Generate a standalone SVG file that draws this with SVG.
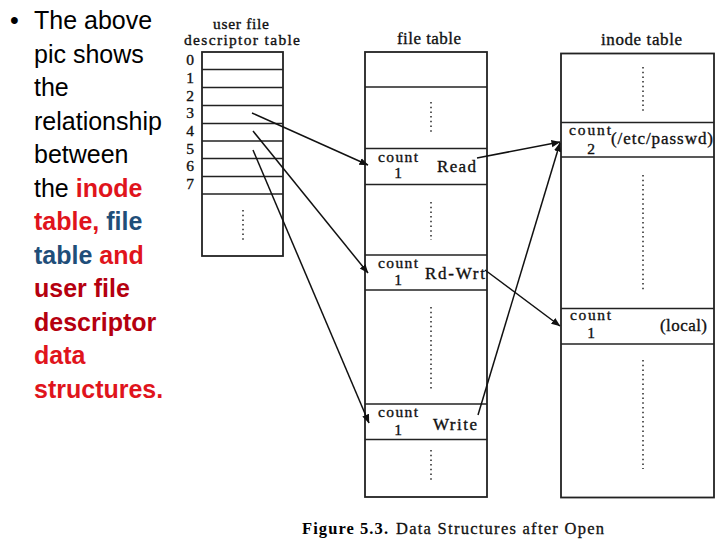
<svg xmlns="http://www.w3.org/2000/svg" width="720" height="540" viewBox="0 0 720 540">
<defs>
<style>
.b{font-family:"Liberation Sans",Arial,sans-serif;font-size:25px;fill:#000}
.rd{fill:#E0141C;font-weight:bold}
.dr{fill:#B5000F;font-weight:bold}
.bl{fill:#1F4E79;font-weight:bold}
.s{font-family:"Liberation Serif","Times New Roman",serif;font-size:17px;fill:#111;stroke:#111;stroke-width:0.35}
.c{font-size:15.5px}
.tb{fill:#fff;stroke:#222;stroke-width:1.8}
.ln{stroke:#222;stroke-width:1.6}
.dt{stroke:#333;stroke-width:1.6;stroke-dasharray:1.5 3.2}
.ar{stroke:#111;stroke-width:1.5;fill:none;marker-end:url(#ah)}
</style>
<marker id="ah" viewBox="0 0 10 10" refX="9.5" refY="5" markerWidth="9" markerHeight="9" markerUnits="userSpaceOnUse" orient="auto">
<path d="M0,1 L10,5 L0,9 Z" fill="#111"/>
</marker>
</defs>
<rect width="720" height="540" fill="#fff"/>

<g id="bullet-text" class="b">
<text x="10" y="29">•</text>
<text x="34" y="29">The above</text>
<text x="34" y="63">pic shows</text>
<text x="34" y="96">the</text>
<text x="34" y="130">relationship</text>
<text x="34" y="163">between</text>
<text x="34" y="197">the <tspan class="rd">inode</tspan></text>
<text x="34" y="230"><tspan class="rd">table,</tspan> <tspan class="bl">file</tspan></text>
<text x="34" y="264"><tspan class="bl">table</tspan> <tspan class="rd">and</tspan></text>
<text x="34" y="297" class="dr">user file</text>
<text x="34" y="331" class="dr">descriptor</text>
<text x="34" y="364" class="rd">data</text>
<text x="34" y="398" class="rd">structures.</text>
</g>

<g id="user-fd-table">
<text class="s c" x="213" y="28.5" textLength="56">user file</text>
<text class="s c" x="184" y="45" textLength="116">descriptor table</text>
<rect class="tb" x="202" y="52" width="81" height="204"/>
<line class="ln" x1="202" y1="69.5" x2="283" y2="69.5"/>
<line class="ln" x1="202" y1="87.5" x2="283" y2="87.5"/>
<line class="ln" x1="202" y1="105.5" x2="283" y2="105.5"/>
<line class="ln" x1="202" y1="123.5" x2="283" y2="123.5"/>
<line class="ln" x1="202" y1="141" x2="283" y2="141"/>
<line class="ln" x1="202" y1="158.5" x2="283" y2="158.5"/>
<line class="ln" x1="202" y1="176.5" x2="283" y2="176.5"/>
<line class="ln" x1="202" y1="194" x2="283" y2="194"/>
<line class="dt" x1="243" y1="210" x2="243" y2="240"/>
<g class="s c" text-anchor="middle">
<text x="190" y="65">0</text>
<text x="190" y="83">1</text>
<text x="190" y="100.5">2</text>
<text x="190" y="118">3</text>
<text x="190" y="136">4</text>
<text x="190" y="153.5">5</text>
<text x="190" y="171">6</text>
<text x="190" y="189">7</text>
</g>
</g>

<g id="file-table">
<text class="s" x="397" y="44" textLength="64">file table</text>
<rect class="tb" x="365" y="52" width="122" height="445"/>
<line class="ln" x1="365" y1="87" x2="487" y2="87"/>
<line class="ln" x1="365" y1="148.5" x2="487" y2="148.5"/>
<line class="ln" x1="365" y1="184.5" x2="487" y2="184.5"/>
<line class="ln" x1="365" y1="255" x2="487" y2="255"/>
<line class="ln" x1="365" y1="290" x2="487" y2="290"/>
<line class="ln" x1="365" y1="404" x2="487" y2="404"/>
<line class="ln" x1="365" y1="439.5" x2="487" y2="439.5"/>
<line class="dt" x1="431" y1="102" x2="431" y2="132"/>
<line class="dt" x1="431" y1="202" x2="431" y2="240"/>
<line class="dt" x1="431" y1="307" x2="431" y2="389"/>
<line class="dt" x1="431" y1="450" x2="431" y2="480"/>
<g id="ft-read">
<text class="s c" x="378" y="161.5" textLength="40">count</text>
<text class="s c" x="398" y="178" text-anchor="middle">1</text>
<text class="s" x="437" y="171.5" textLength="39">Read</text>
</g>
<g id="ft-rdwrt">
<text class="s c" x="378" y="267.5" textLength="40">count</text>
<text class="s c" x="398" y="284.5" text-anchor="middle">1</text>
<text class="s" x="425" y="279" textLength="60">Rd-Wrt</text>
</g>
<g id="ft-write">
<text class="s c" x="378" y="417" textLength="40">count</text>
<text class="s c" x="398" y="435" text-anchor="middle">1</text>
<text class="s" x="433" y="430" textLength="44">Write</text>
</g>
</g>

<g id="inode-table">
<text class="s" x="601" y="45" textLength="81">inode table</text>
<rect class="tb" x="561" y="53.5" width="153" height="444"/>
<line class="ln" x1="561" y1="122.5" x2="714" y2="122.5"/>
<line class="ln" x1="561" y1="157" x2="714" y2="157"/>
<line class="ln" x1="561" y1="308.5" x2="714" y2="308.5"/>
<line class="ln" x1="561" y1="344" x2="714" y2="344"/>
<line class="dt" x1="643" y1="67" x2="643" y2="114"/>
<line class="dt" x1="643" y1="175" x2="643" y2="291"/>
<line class="dt" x1="643" y1="360" x2="643" y2="469"/>
<g id="in-passwd">
<text class="s c" x="569" y="135" textLength="42">count</text>
<text class="s c" x="591" y="153.5" text-anchor="middle">2</text>
<text class="s" x="611" y="144" textLength="102">(/etc/passwd)</text>
</g>
<g id="in-local">
<text class="s c" x="570" y="320" textLength="41">count</text>
<text class="s c" x="591" y="337.5" text-anchor="middle">1</text>
<text class="s" x="660" y="331" textLength="47">(local)</text>
</g>
</g>

<g id="connectors">
<line class="ar" x1="252" y1="113" x2="368" y2="165"/>
<line class="ar" x1="253" y1="131" x2="368" y2="273"/>
<line class="ar" x1="253" y1="150" x2="369" y2="423"/>
<line class="ar" x1="477" y1="158" x2="560" y2="142"/>
<line class="ar" x1="478" y1="415" x2="560" y2="143"/>
<line class="ar" x1="485" y1="270" x2="560" y2="326"/>
</g>

<g id="caption">
<text x="302" y="534" font-family="Liberation Serif,serif" font-size="16.5" font-weight="bold" textLength="86">Figure 5.3.</text>
<text x="396" y="534" font-family="Liberation Serif,serif" font-size="16.5" fill="#111" stroke="#111" stroke-width="0.3" textLength="208">Data Structures after Open</text>
</g>
</svg>
